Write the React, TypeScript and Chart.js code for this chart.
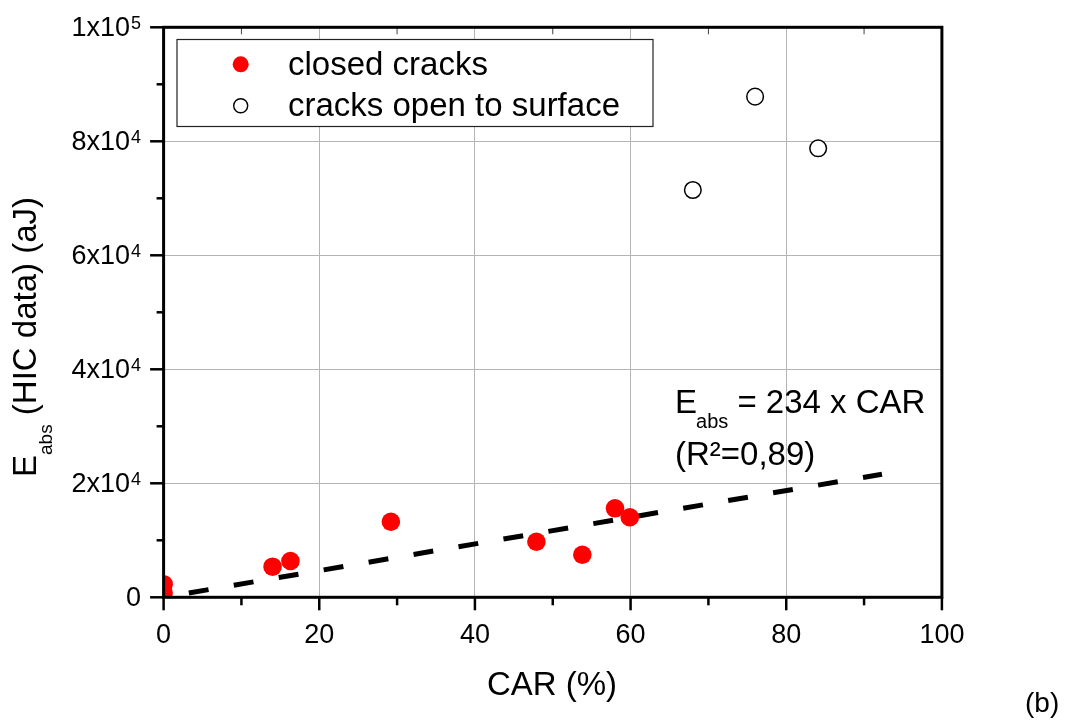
import React, { useEffect, useRef } from "react";
import Chart from "chart.js/auto";

// ---- data ----
const CLOSED_X = [0, 0, 14.0, 16.3, 29.2, 47.9, 53.8, 58.0, 59.9];
const CLOSED_Y = [2300, 800, 5370, 6370, 13260, 9750, 7470, 15610, 14040];
const OPEN_X = [68.0, 76.0, 84.1];
const OPEN_Y = [71460, 87830, 78770];
const FIT_X = [0, 92.3];
const FIT_Y = [0, 21600];

const X_TICKS = [0, 20, 40, 60, 80, 100];
const X_MINOR = [10, 30, 50, 70, 90];
const Y_TICKS = [0, 20000, 40000, 60000, 80000, 100000];
const Y_TICK_LABELS = ["0", "2x10^4", "4x10^4", "6x10^4", "8x10^4", "1x10^5"];
const Y_MINOR = [10000, 30000, 50000, 70000, 90000];

const LEGEND_LABELS = ["closed cracks", "cracks open to surface"];
const X_TITLE = "CAR (%)";
const Y_TITLE = ["E", "abs", " (HIC data) (aJ)"];
const FIT_EQ = ["E", "abs", " = 234 x CAR"];
const FIT_R2 = "(R\u00B2=0,89)";
const PANEL = "(b)";

const FONT = '"Liberation Sans", Arial, Helvetica, sans-serif';

const overlay = {
  id: "overlay",
  afterDraw(chart: any) {
    const ctx: CanvasRenderingContext2D = chart.ctx;
    const { left, right, top, bottom } = chart.chartArea;
    const xs = chart.scales.x;
    const ys = chart.scales.y;
    const line = (x1: number, y1: number, x2: number, y2: number) => {
      ctx.beginPath();
      ctx.moveTo(x1, y1);
      ctx.lineTo(x2, y2);
      ctx.stroke();
    };
    ctx.save();
    ctx.strokeStyle = "#000";
    ctx.fillStyle = "#000";
    ctx.lineCap = "butt";

    // tick marks
    ctx.lineWidth = 2.5;
    X_TICKS.forEach((v) => {
      const px = xs.getPixelForValue(v);
      line(px, bottom, px, bottom + 13);
    });
    X_MINOR.forEach((v) => {
      const px = xs.getPixelForValue(v);
      line(px, bottom, px, bottom + 8);
    });
    Y_TICKS.forEach((v) => {
      const py = ys.getPixelForValue(v);
      line(left - 13.5, py, left, py);
    });
    Y_MINOR.forEach((v) => {
      const py = ys.getPixelForValue(v);
      line(left - 7, py, left, py);
    });
    ctx.lineWidth = 1;
    ctx.strokeStyle = "#444";
    X_MINOR.forEach((v) => {
      const px = xs.getPixelForValue(v);
      line(px, top, px, top + 7);
    });

    // frame
    ctx.strokeStyle = "#000";
    ctx.lineWidth = 3;
    ctx.strokeRect(left, top, right - left, bottom - top);

    // x tick labels
    ctx.font = `27px ${FONT}`;
    ctx.textAlign = "center";
    ctx.textBaseline = "alphabetic";
    X_TICKS.forEach((v) => {
      ctx.fillText(String(v), xs.getPixelForValue(v), 643);
    });

    // y tick labels with superscripts
    Y_TICK_LABELS.forEach((lab, i) => {
      const py = ys.getPixelForValue(Y_TICKS[i]);
      const parts = lab.split("^");
      ctx.textAlign = "right";
      let xr = 141;
      if (parts.length > 1) {
        ctx.font = `18px ${FONT}`;
        ctx.fillText(parts[1], xr, py + 1.5);
        xr -= ctx.measureText(parts[1]).width + 1;
      }
      ctx.font = `27px ${FONT}`;
      ctx.fillText(parts[0], xr, py + 8.5);
    });

    // x title
    ctx.font = `33px ${FONT}`;
    ctx.textAlign = "center";
    ctx.fillText(X_TITLE, 552, 695);

    // y title (rotated)
    ctx.save();
    ctx.translate(36, 477);
    ctx.rotate(-Math.PI / 2);
    ctx.textAlign = "left";
    ctx.font = `33px ${FONT}`;
    ctx.fillText(Y_TITLE[0], 0, 0);
    let tx = ctx.measureText(Y_TITLE[0]).width;
    ctx.font = `19px ${FONT}`;
    ctx.fillText(Y_TITLE[1], tx, 16);
    tx += ctx.measureText(Y_TITLE[1]).width;
    ctx.font = `33px ${FONT}`;
    ctx.fillText(Y_TITLE[2], tx, 0);
    ctx.restore();

    // fit annotation
    ctx.textAlign = "left";
    ctx.font = `33px ${FONT}`;
    ctx.fillText(FIT_EQ[0], 675, 413);
    let ax = 675 + ctx.measureText(FIT_EQ[0]).width;
    ctx.font = `20px ${FONT}`;
    ctx.fillText(FIT_EQ[1], ax - 1, 428);
    ax += ctx.measureText(FIT_EQ[1]).width - 1;
    ctx.font = `33px ${FONT}`;
    ctx.fillText(FIT_EQ[2], ax, 413);
    ctx.fillText(FIT_R2, 675, 465);

    // panel label
    ctx.font = `28px ${FONT}`;
    ctx.fillText(PANEL, 1025, 712);

    // legend box
    ctx.fillStyle = "#fff";
    ctx.fillRect(177, 39.5, 476, 87);
    ctx.strokeStyle = "#222";
    ctx.lineWidth = 1.2;
    ctx.strokeRect(177, 39.5, 476, 87);
    ctx.fillStyle = "#ff0000";
    ctx.beginPath();
    ctx.arc(240.7, 64.3, 8, 0, Math.PI * 2);
    ctx.fill();
    ctx.fillStyle = "#fff";
    ctx.strokeStyle = "#000";
    ctx.lineWidth = 1.4;
    ctx.beginPath();
    ctx.arc(240.7, 105.7, 7, 0, Math.PI * 2);
    ctx.fill();
    ctx.stroke();
    ctx.fillStyle = "#000";
    ctx.font = `33px ${FONT}`;
    ctx.fillText(LEGEND_LABELS[0], 288, 74.5);
    ctx.fillText(LEGEND_LABELS[1], 288, 116);

    ctx.restore();
  },
};

export default function App() {
  const ref = useRef<HTMLCanvasElement>(null);
  useEffect(() => {
    if (!ref.current) return;
    const chart = new Chart(ref.current, {
      type: "scatter",
      data: {
        datasets: [
          {
            label: LEGEND_LABELS[0],
            data: CLOSED_X.map((x, i) => ({ x, y: CLOSED_Y[i] })),
            backgroundColor: "#ff0000",
            borderColor: "#ff0000",
            borderWidth: 0,
            pointRadius: 9.3,
            clip: 0,
          },
          {
            label: LEGEND_LABELS[1],
            data: OPEN_X.map((x, i) => ({ x, y: OPEN_Y[i] })),
            backgroundColor: "#ffffff",
            borderColor: "#000000",
            borderWidth: 1.5,
            pointRadius: 8.3,
            clip: 0,
          },
          {
            label: "fit",
            type: "line",
            data: FIT_X.map((x, i) => ({ x, y: FIT_Y[i] })),
            borderColor: "#000000",
            borderWidth: 5,
            borderDash: [20, 25.6],
            borderDashOffset: 20,
            pointRadius: 0,
            showLine: true,
            fill: false,
            clip: 0,
          } as any,
        ],
      },
      options: {
        animation: false,
        responsive: false,
        devicePixelRatio: 1,
        layout: {
          padding: { left: 163.6, top: 27.3, right: 126.1, bottom: 124.7 },
        },
        plugins: {
          legend: { display: false },
          tooltip: { enabled: false },
        },
        scales: {
          x: {
            type: "linear",
            min: 0,
            max: 100,
            ticks: { display: false, stepSize: 20 },
            grid: { color: "#b4b4b4", lineWidth: 1, drawTicks: false },
            border: { display: false },
          },
          y: {
            type: "linear",
            min: 0,
            max: 100000,
            ticks: { display: false, stepSize: 20000 },
            grid: { color: "#b4b4b4", lineWidth: 1, drawTicks: false },
            border: { display: false },
          },
        },
      },
      plugins: [overlay],
    });
    return () => chart.destroy();
  }, []);
  return (
    <div style={{ position: "absolute", left: 0, top: 0, width: 1068, height: 722, background: "#fff" }}>
      <canvas ref={ref} width={1068} height={722} style={{ width: 1068, height: 722, display: "block" }} />
    </div>
  );
}
